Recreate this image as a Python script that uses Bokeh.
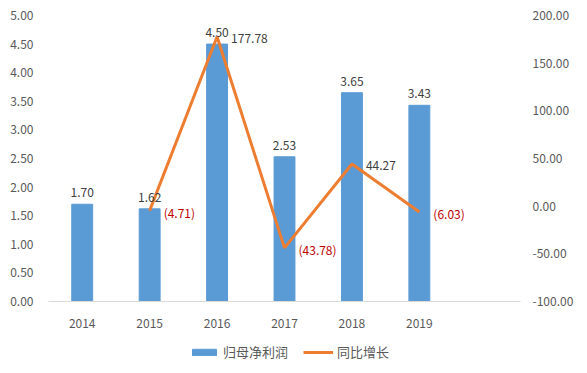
from bokeh.plotting import figure
from bokeh.layouts import column
from bokeh.models import FactorRange, Range1d, LinearAxis, FixedTicker, ColumnDataSource, Legend, LegendItem, LabelSet, NumeralTickFormatter
from bokeh.core.properties import value
from bokeh.embed import file_html
from bokeh.resources import INLINE

years = ["2014", "2015", "2016", "2017", "2018", "2019"]
profit = [1.70, 1.62, 4.50, 2.53, 3.65, 3.43]
growth_years = ["2015", "2016", "2017", "2018", "2019"]
growth = [-4.71, 177.78, -43.78, 44.27, -6.03]

bar_name = "归母净利润"
line_name = "同比增长"

FONT = "Noto Sans CJK SC"
TXT = "#595959"
BAR_C = "#5B9BD5"
LINE_C = "#ED7D31"

p = figure(width=587, height=333, output_backend="svg", toolbar_location=None,
           x_range=FactorRange(*(years + [" "]), range_padding=0),
           y_range=Range1d(0, 5),
           min_border_left=48, min_border_right=67, min_border_top=15, min_border_bottom=32)
p.outline_line_color = None
p.xgrid.grid_line_color = None
p.ygrid.grid_line_color = None
p.extra_y_ranges = {"r": Range1d(-100, 200)}

p.yaxis.ticker = FixedTicker(ticks=[i * 0.5 for i in range(11)])
p.yaxis.formatter = NumeralTickFormatter(format="0.00")
ra = LinearAxis(y_range_name="r", ticker=FixedTicker(ticks=[-100, -50, 0, 50, 100, 150, 200]),
                formatter=NumeralTickFormatter(format="0.00"))
p.add_layout(ra, "right")
for ax in [p.yaxis[0], ra]:
    ax.axis_line_color = None
    ax.major_tick_line_color = None
    ax.minor_tick_line_color = None
    ax.major_tick_out = 0
    ax.minor_tick_out = 0
    ax.major_label_text_font = FONT
    ax.major_label_text_font_size = "12px"
    ax.major_label_text_color = TXT
p.yaxis[0].major_label_standoff = 15
ra.major_label_standoff = 12
p.xaxis.axis_line_color = "#D9D9D9"
p.xaxis.major_tick_line_color = None
p.xaxis.minor_tick_line_color = None
p.xaxis.major_tick_out = 0
p.xaxis.major_label_text_font = FONT
p.xaxis.major_label_text_font_size = "12px"
p.xaxis.major_label_text_color = TXT
p.xaxis.major_label_standoff = 12

src = ColumnDataSource(dict(x=years, top=profit, lab=["%.2f" % v for v in profit]))
p.vbar(x="x", top="top", width=0.31, source=src, color=BAR_C)
p.add_layout(LabelSet(x="x", y="top", text="lab", source=src, text_align="center",
                      text_baseline="bottom", y_offset=7, text_font=value(FONT),
                      text_font_size="12px", text_color="#404040"))

gsrc = ColumnDataSource(dict(x=growth_years, y=growth,
                             lab=[("%.2f" % v) if v >= 0 else "(%.2f)" % (-v) for v in growth],
                             col=["#404040" if v >= 0 else "#C00000" for v in growth]))
p.line(x="x", y="y", source=gsrc, y_range_name="r", line_color=LINE_C, line_width=3)
p.add_layout(LabelSet(x="x", y="y", text="lab", source=gsrc, y_range_name="r",
                      text_align="left", text_baseline="middle", x_offset=14, y_offset=-2,
                      text_font=value(FONT), text_font_size="12px", text_color="col"))

# legend strip below the chart: same series, drawn outside this strip's visible range
p2 = figure(width=587, height=40, output_backend="svg", toolbar_location=None,
            x_range=FactorRange(*years), y_range=Range1d(1000, 1001),
            x_axis_type=None, y_axis_type=None, min_border=0)
p2.outline_line_color = None
p2.xgrid.grid_line_color = None
p2.ygrid.grid_line_color = None
lb = p2.vbar(x=years, top=profit, width=0.31, color=BAR_C)
ll = p2.line(x=growth_years, y=growth, line_color=LINE_C, line_width=3)
leg = Legend(items=[LegendItem(label=bar_name, renderers=[lb]),
                    LegendItem(label=line_name, renderers=[ll])],
             orientation="horizontal", location=(141, 12),
             label_text_font=FONT, label_text_font_size="13px", label_text_color=TXT,
             glyph_width=30, glyph_height=8, spacing=15, label_standoff=4,
             border_line_color=None, background_fill_alpha=0, padding=0, margin=0)
p2.add_layout(leg)

layout = column(p, p2, spacing=0)
open("out.html", "w").write(file_html(layout, INLINE))
